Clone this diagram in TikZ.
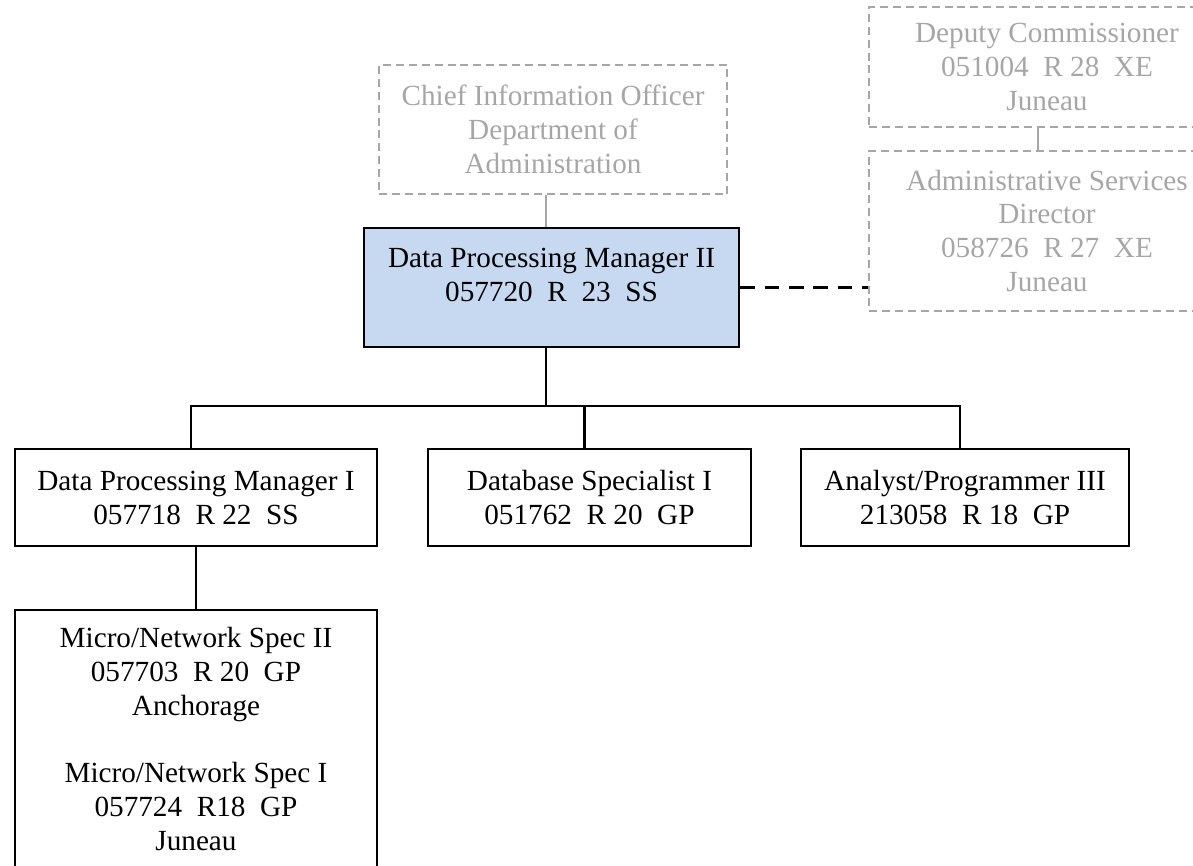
\documentclass[tikz,border=0pt]{standalone}
\usepackage{fontspec}
\setmainfont{Liberation Serif}
\usepackage{tikz}

\definecolor{boxblue}{RGB}{198,217,241}
\definecolor{softgrey}{RGB}{166,166,166}
\def\pxu{0.4107pt}

\begin{document}
\begin{tikzpicture}[x=\pxu, y=-\pxu]
  \tikzset{BoxStyle/.style={draw, line width=1pt, rectangle, align=center,
      inner sep=0pt, font=\fontsize{12}{13.96}\selectfont}}
  \tikzset{FarStyle/.style={BoxStyle, draw=softgrey, text=softgrey,
      line width=0.8pt, dash pattern=on 3.3pt off 2pt}}
  \tikzset{EdgeStyle/.style={line width=0.85pt}}

  \useasboundingbox (0,0) rectangle (1193,866);
  \clip (0,0) rectangle (1193,866);

  % offices above
  \node[FarStyle, minimum width=348*\pxu, minimum height=129*\pxu] (cio) at (553,129.5)
    {Chief Information Officer\\Department of\\Administration};
  \node[FarStyle, minimum width=356*\pxu, minimum height=120*\pxu] (dc) at (1047,67)
    {Deputy Commissioner\\051004~~R 28~~XE\\Juneau};
  \node[FarStyle, minimum width=356*\pxu, minimum height=160*\pxu] (asd) at (1047,231)
    {Administrative Services\\Director\\058726~~R 27~~XE\\Juneau};

  \node[BoxStyle, fill=boxblue, minimum width=375*\pxu, minimum height=119*\pxu] (dpm2) at (551.5,287.5)
    {Data Processing Manager II\\057720~~R~~23~~SS\\[-7.4pt]\strut};

  % staff
  \node[BoxStyle, minimum width=362*\pxu, minimum height=97*\pxu] (dpm1) at (196,497.5)
    {Data Processing Manager I\\057718~~R 22~~SS};
  \node[BoxStyle, minimum width=323*\pxu, minimum height=97*\pxu] (dbs) at (589.5,497.5)
    {Database Specialist I\\051762~~R 20~~GP};
  \node[BoxStyle, minimum width=328*\pxu, minimum height=97*\pxu] (ap) at (965,497.5)
    {Analyst/Programmer III\\213058~~R 18~~GP};
  \node[BoxStyle, minimum width=362*\pxu, minimum height=258*\pxu] (mns) at (196,739)
    {Micro/Network Spec II\\057703~~R 20~~GP\\Anchorage\\[13.96pt]Micro/Network Spec I\\057724~~R18~~GP\\Juneau};

  \coordinate (bus) at (546,406);

  \draw[EdgeStyle, softgrey] (bus |- dpm2.north) -- (bus |- cio.south);
  \draw[EdgeStyle, softgrey] ([xshift=-9*\pxu]asd.north) -- ([xshift=-9*\pxu]dc.south);
  \draw[EdgeStyle, dash pattern=on 6pt off 4pt] (dpm2.east) -- (dpm2.east -| asd.west);

  \draw[EdgeStyle] (bus |- dpm2.south) -- (bus);
  \foreach \n in {dpm1,dbs,ap}
    \draw[EdgeStyle] (bus) -| ([xshift=-5*\pxu]\n.north);
  \draw[EdgeStyle] (dpm1.south) -- (mns.north);
\end{tikzpicture}
\end{document}
